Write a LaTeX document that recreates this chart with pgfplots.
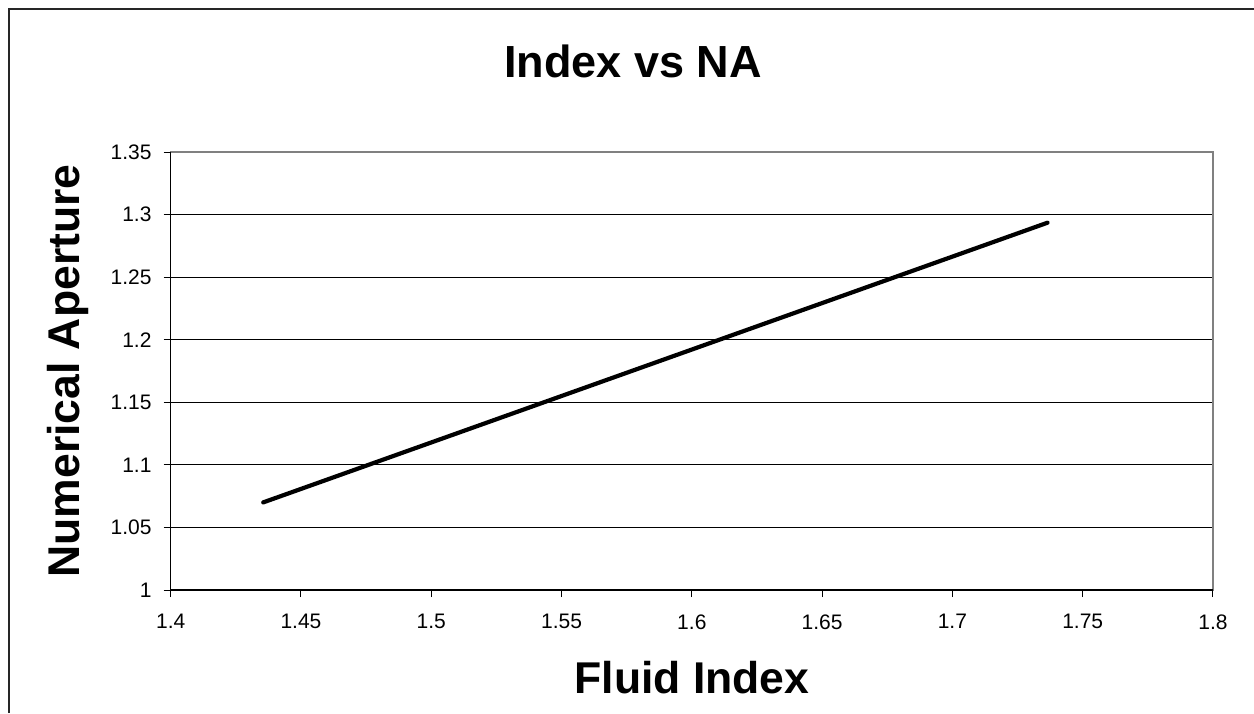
\documentclass[border=0pt]{standalone}
\usepackage{fontspec}
\setmainfont{Liberation Sans}
\usepackage{pgfplots}
\pgfplotsset{compat=1.18}
\newcommand{\tickfont}{\fontsize{21}{25}\selectfont}
\begin{document}
\begin{tikzpicture}
\useasboundingbox (0pt,0pt) rectangle (1254pt,713pt);
% outer chart frame (only left and top edges are visible)
\draw[line width=1.3pt, black!85] (9pt,0pt) -- (9pt,704pt) -- (1254pt,704pt);
\begin{axis}[
    at={(170.7pt,123pt)}, anchor=south west,
    scale only axis, width=1042.3pt, height=438pt,
    xmin=1.4, xmax=1.8, ymin=1, ymax=1.35,
    xtick={1.4,1.45,1.5,1.55,1.6,1.65,1.7,1.75,1.8},
    xticklabels={1.4,1.45,1.5,1.55,1.6,1.65,1.7,1.75,1.8},
    ytick={1,1.05,1.1,1.15,1.2,1.25,1.3,1.35},
    yticklabels={1,1.05,1.1,1.15,1.2,1.25,1.3,1.35},
    xtick pos=left, ytick pos=left,
    tick align=outside, major tick length=7pt,
    tick style={black, line width=1pt},
    xticklabel style={font=\tickfont, yshift=-14pt},
    yticklabel style={font=\tickfont, xshift=-8.7pt},
    /pgf/number format/assume math mode=true,
    ymajorgrids, major grid style={black, line width=1pt},
    axis line style={draw=gray, line width=1.3pt},
    clip=false,
]
\addplot[black, line width=4.2pt, line cap=round] coordinates {(1.4355,1.0700) (1.7365,1.2935)};
\draw[black, line width=1.3pt] (rel axis cs:0,1) -- (rel axis cs:0,0) -- (rel axis cs:1,0);
\end{axis}
\node[font=\fontsize{45}{54}\selectfont\bfseries] at (633pt,652pt) {Index vs NA};
\node[font=\fontsize{44.5}{54}\selectfont\bfseries] at (692pt,35pt) {Fluid Index};
\node[font=\fontsize{44.5}{54}\selectfont\bfseries, rotate=90] at (68pt,342pt) {Numerical Aperture};
\end{tikzpicture}
\end{document}
